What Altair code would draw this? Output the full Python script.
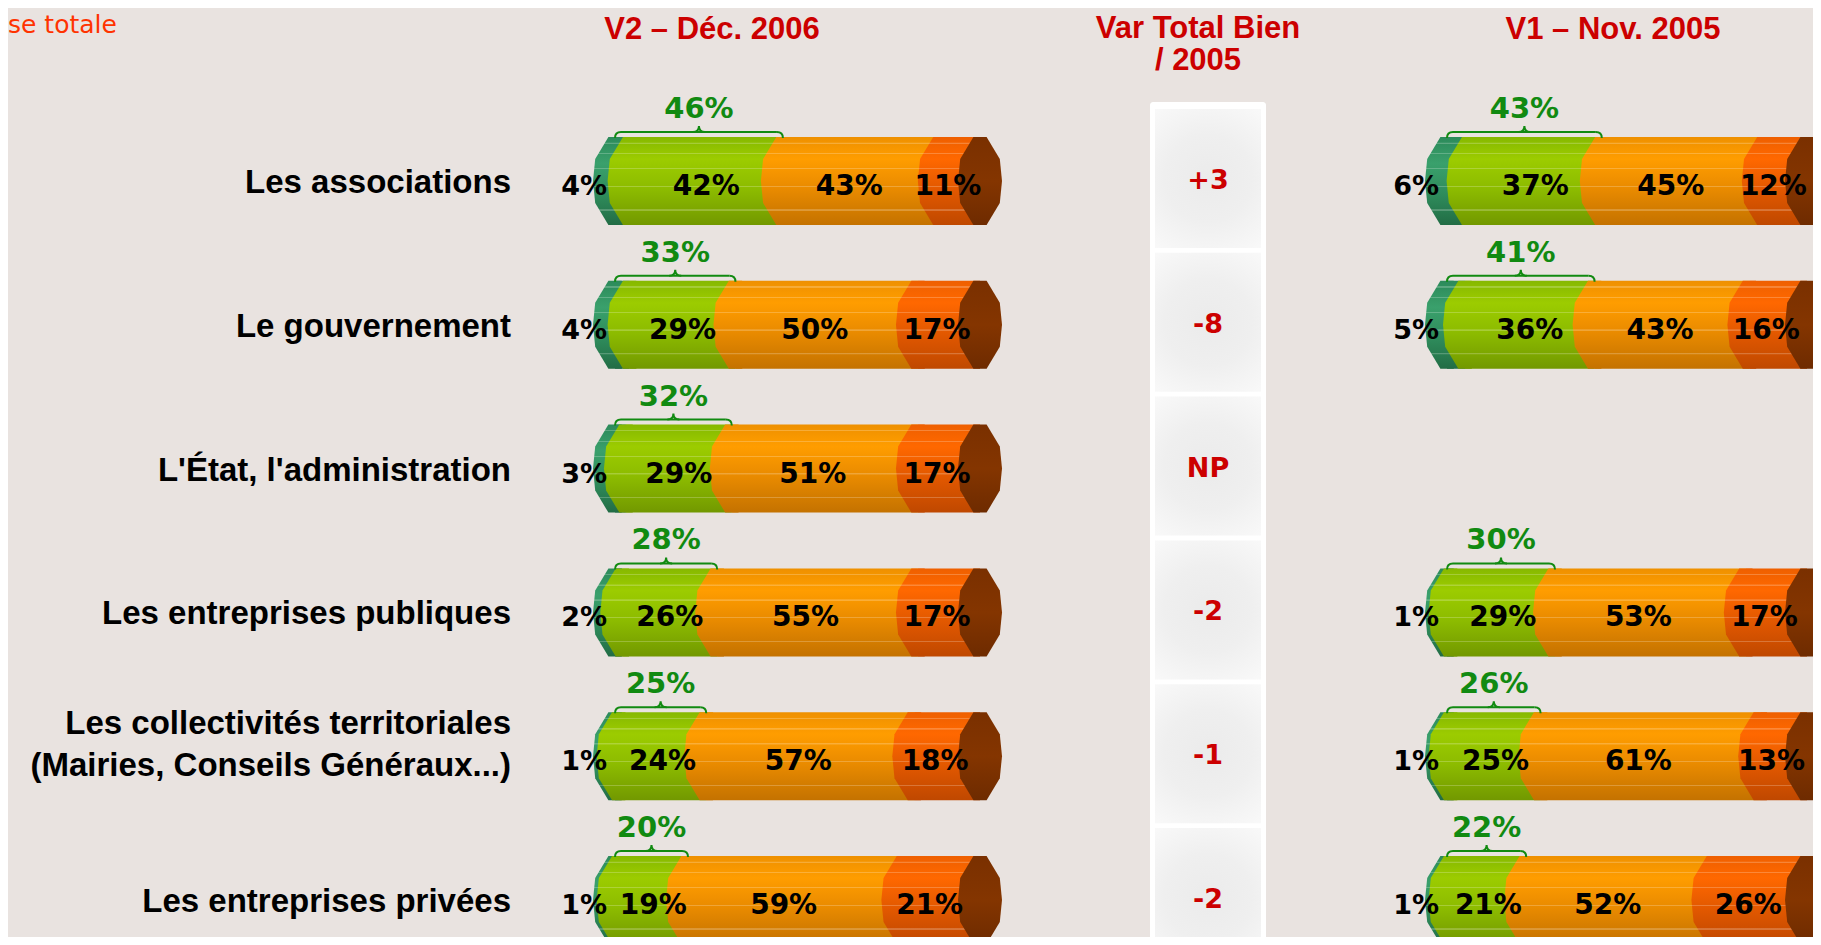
import altair as alt
import pandas as pd

# ---------------- data ----------------
row_labels = [
    "Les associations",
    "Le gouvernement",
    "L'État, l'administration",
    "Les entreprises publiques",
    "Les collectivités territoriales\n(Mairies, Conseils Généraux...)",
    "Les entreprises privées",
]
var_labels = ["+3", "-8", "NP", "-2", "-1", "-2"]
cat_keys = ["tres_bien", "assez_bien", "assez_mal", "tres_mal"]

# V2 - Déc. 2006
v2_rows = [0, 1, 2, 3, 4, 5]
v2_c1 = [4, 4, 3, 2, 1, 1]
v2_c2 = [42, 29, 29, 26, 24, 19]
v2_c3 = [43, 50, 51, 55, 57, 59]
v2_c4 = [11, 17, 17, 17, 18, 21]
v2_total = [46, 33, 32, 28, 25, 20]

# V1 - Nov. 2005 (no value for L'État)
v1_rows = [0, 1, 3, 4, 5]
v1_c1 = [6, 5, 1, 1, 1]
v1_c2 = [37, 36, 29, 25, 21]
v1_c3 = [45, 43, 53, 61, 52]
v1_c4 = [12, 16, 17, 13, 26]
v1_total = [43, 41, 30, 26, 22]

headers = ["V2 – Déc. 2006", "Var Total Bien", "/ 2005", "V1 – Nov. 2005"]
note = "se totale"


def long_table(rows, c1, c2, c3, c4, totals):
    recs, tot = [], []
    for i, r in enumerate(rows):
        s = 0
        for k, v in zip(cat_keys, [c1[i], c2[i], c3[i], c4[i]]):
            recs.append(dict(row=r, cat=k, start=s, end=s + v, mid=s + v / 2, label=f"{v}%"))
            s += v
        recs.append(dict(row=r, cat="cap", start=s, end=s, mid=s, label=""))
        tot.append(dict(row=r, b_start=0, b_end=totals[i], b_mid=totals[i] / 2, label=f"{totals[i]}%"))
    return pd.DataFrame(recs), pd.DataFrame(tot)


v2_df, v2_tot = long_table(v2_rows, v2_c1, v2_c2, v2_c3, v2_c4, v2_total)
v1_df, v1_tot = long_table(v1_rows, v1_c1, v1_c2, v1_c3, v1_c4, v1_total)
rows_df = pd.DataFrame({"row": list(range(len(row_labels))), "name": row_labels, "var": var_labels})
rows_df["multi"] = rows_df["name"].str.contains("\n")

# ---------------- style ----------------
NUMF = "DejaVu Sans"
LABF = "Liberation Sans"
GREEN = "#118a11"
RED = "#cc0000"
B = 22  # half width of the cylinder end ellipse (px)
ELL = ("M -0.15 -1 L 0.15 -1 L 0.45 -0.5 L 0.5 0 L 0.45 0.5 L 0.15 1 "
       "L -0.15 1 L -0.45 0.5 L -0.5 0 L -0.45 -0.5 Z")

GRADS = {
    "tres_bien": [(0, "#2c8a5a"), (0.3, "#3aa06c"), (0.65, "#2f8c5c"), (1, "#226c45")],
    "assez_bien": [(0, "#86b800"), (0.25, "#9ccc00"), (0.6, "#8cbb00"), (1, "#729800")],
    "assez_mal": [(0, "#ee9000"), (0.25, "#ff9d00"), (0.6, "#e88a00"), (1, "#c47200")],
    "tres_mal": [(0, "#ee5f00"), (0.25, "#ff6800"), (0.6, "#e25800"), (1, "#bf4800")],
    "cap": [(0, "#7a3000"), (0.5, "#843500"), (1, "#6e2b00")],
}
STRIPES = [0.07, 0.19, 0.36, 0.56, 0.83]


def _hex(c):
    return [int(c[i:i + 2], 16) for i in (1, 3, 5)]


def _mix(a, b, t):
    return "#" + "".join(f"{round(x + (y - x) * t):02x}" for x, y in zip(a, b))


def _at(stops, o):
    for (o0, c0), (o1, c1) in zip(stops[:-1], stops[1:]):
        if o0 <= o <= o1:
            return _mix(_hex(c0), _hex(c1), (o - o0) / (o1 - o0))
    return stops[-1][1]


def vgrad(stops, stripes=True):
    pts = list(stops)
    if stripes:
        for o in STRIPES:
            base = _at(stops, o)
            light = _mix(_hex(base), [255, 255, 255], 0.22)
            pts += [(o - 0.008, base), (o - 0.006, light), (o + 0.006, light), (o + 0.008, base)]
    pts.sort(key=lambda p: p[0])
    return alt.LinearGradient(
        gradient="linear",
        stops=[alt.GradientStop(offset=o, color=c) for o, c in pts],
        x1=0, x2=0, y1=0, y2=1,
    )


YSC = alt.Scale(domain=[0, 5], range=[173, 892])
Y = alt.Y("row:Q", scale=YSC, axis=None)


def panel(df, tot, xr):
    xs = alt.Scale(domain=[0, 100], range=xr)

    def X(f):
        return alt.X(f"{f}:Q", scale=xs, axis=None)

    base = alt.Chart(df)
    layers = []
    for k in cat_keys:
        layers.append(
            base.transform_filter(alt.datum.cat == k)
            .mark_rect(fill=vgrad(GRADS[k]), xOffset=B, x2Offset=B, yOffset=-44, y2Offset=44)
            .encode(x=X("start"), x2="end", y=Y, y2="row")
        )
    for k in cat_keys + ["cap"]:
        layers.append(
            base.transform_filter(alt.datum.cat == k)
            .mark_point(shape=ELL, size=7744, filled=True, fill=vgrad(GRADS[k], k != "cap"),
                        opacity=1, strokeWidth=0, xOffset=B)
            .encode(x=X("start"), y=Y)
        )
    # labels in segments
    for k, dxk in zip(cat_keys[1:], [22, 10, 10]):
        layers.append(
            base.transform_filter(alt.datum.cat == k)
            .mark_text(font=NUMF, fontWeight="bold", fontSize=28, color="black", dx=dxk, dy=6)
            .encode(x=X("mid"), y=Y, text="label:N")
        )
    layers.append(
        base.transform_filter(alt.datum.cat == cat_keys[0])
        .mark_text(font=NUMF, fontWeight="bold", fontSize=27, color="black",
                   align="right", dx=14, dy=6)
        .encode(x=X("start"), y=Y, text="label:N")
    )
    # brace + total
    tb = alt.Chart(tot)
    layers.append(
        tb.mark_rect(color=GREEN, xOffset=B + 6, x2Offset=B - 6, yOffset=-50, y2Offset=-48)
        .encode(x=X("b_start"), x2="b_end", y=Y, y2="row")
    )
    for f, path in [("b_start", "M 1 0 Q 0 0 0 1"),
                    ("b_end", "M -1 0 Q 0 0 0 1"),
                    ("b_mid", "M -1 0 Q 0 0 0 -1 Q 0 0 1 0")]:
        layers.append(
            tb.mark_point(shape=path, size=144, filled=False, color=GREEN, strokeWidth=2,
                          opacity=1, xOffset=B, yOffset=-49)
            .encode(x=X(f), y=Y)
        )
    layers.append(
        tb.mark_text(font=NUMF, fontWeight="bold", fontSize=29, color=GREEN, dx=B, dy=-72)
        .encode(x=X("b_mid"), y=Y, text="label:N")
    )
    return layers


layers = []
layers += panel(v2_df, v2_tot, [585, 950])
layers += panel(v1_df, v1_tot, [1417, 1777])

# row labels
rb = alt.Chart(rows_df)
layers.append(
    rb.transform_filter("!datum.multi")
    .mark_text(font=LABF, fontWeight="bold", fontSize=33, color="black", align="right", dy=2)
    .encode(x=alt.value(503), y=Y, text="name:N")
)
layers.append(
    rb.transform_filter("datum.multi")
    .mark_text(font=LABF, fontWeight="bold", fontSize=33, color="black", align="right",
               lineBreak="\n", lineHeight=42, dy=-32)
    .encode(x=alt.value(503), y=Y, text="name:N")
)

# variation column
layers.append(
    alt.Chart(pd.DataFrame({"row": [0]}))
    .mark_rect(fill="white", cornerRadiusTopLeft=3, cornerRadiusTopRight=3)
    .encode(x=alt.value(1142), x2=alt.value(1258), y=alt.value(94), y2=alt.value(940))
)
cell_grad = alt.RadialGradient(
    gradient="radial",
    stops=[alt.GradientStop(offset=0, color="#ebebeb"), alt.GradientStop(offset=0.45, color="#efefef"),
           alt.GradientStop(offset=1, color="#fbfbfb")],
    x1=0.5, y1=0.5, r1=0, x2=0.5, y2=0.5, r2=0.7,
)
layers.append(
    rb.mark_rect(fill=cell_grad, yOffset=-72, y2Offset=67)
    .encode(x=alt.value(1147), x2=alt.value(1253), y=Y, y2="row")
)
layers.append(
    rb.mark_text(font=NUMF, fontWeight="bold", fontSize=27, color=RED)
    .encode(x=alt.value(1200), y=Y, text="var:N")
)

# headers
hdf = pd.DataFrame({"t": headers})
for t, xv, yv in [(headers[0], 704, 22), (headers[1], 1190, 21), (headers[2], 1190, 53), (headers[3], 1605, 22)]:
    layers.append(
        alt.Chart(hdf).transform_filter(alt.datum.t == t)
        .mark_text(font=LABF, fontWeight="bold", fontSize=31, color=RED)
        .encode(x=alt.value(xv), y=alt.value(yv), text="t:N")
    )
layers.append(
    alt.Chart(pd.DataFrame({"t": [note]}))
    .mark_text(font=NUMF, fontSize=25, color="#ff3300", align="left", baseline="alphabetic")
    .encode(x=alt.value(0), y=alt.value(25), text="t:N")
)

chart = (
    alt.layer(*layers)
    .resolve_scale(x="independent")
    .properties(width=1805, height=929, padding=0,
                autosize=alt.AutoSizeParams(type="none"), background="#e9e3e0")
    .configure_view(strokeWidth=0)
)

chart.save("out.html", embed_options={"renderer": "svg", "actions": False})
